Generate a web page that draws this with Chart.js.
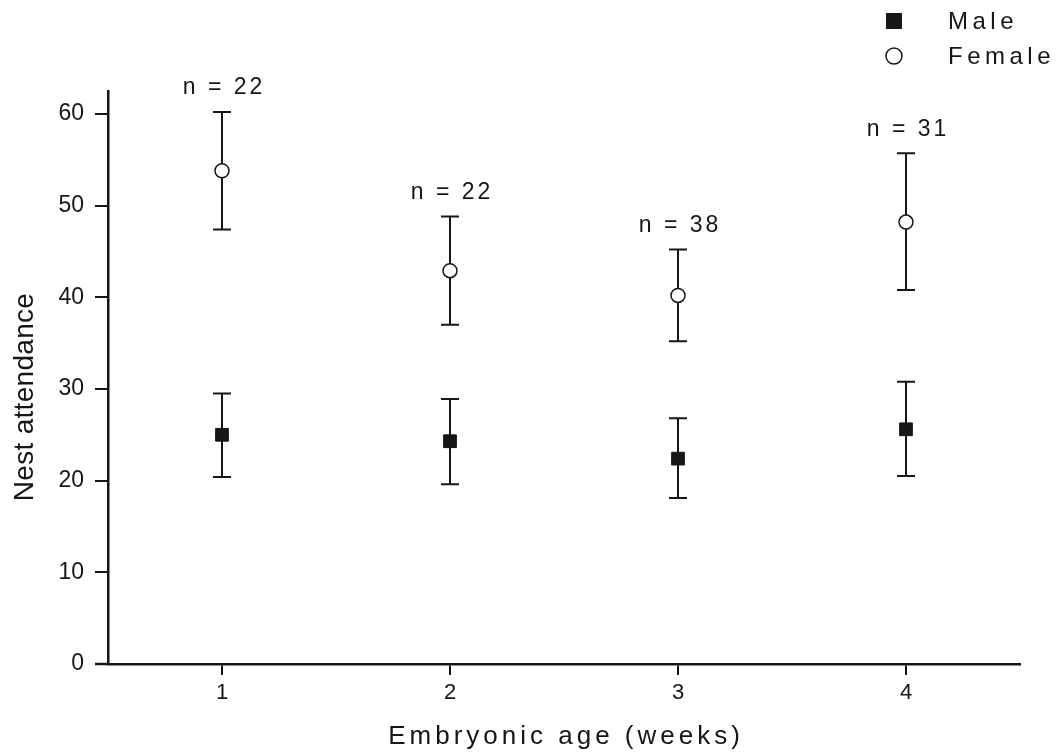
<!doctype html>
<html>
<head>
<meta charset="utf-8">
<style>
  body { margin: 0; background: #fff; }
  .wrap { width: 1061px; height: 756px; position: relative; }
</style>
<script src="https://cdn.jsdelivr.net/npm/chart.js"></script>
</head>
<body>
<div class="wrap"><canvas id="c"></canvas></div>
<script>
// values
const weeks = ['1', '2', '3', '4'];
const maleMean = [25.0, 24.3, 22.4, 25.6];
const maleLow = [20.4, 19.6, 18.1, 20.5];
const maleHigh = [29.5, 28.9, 26.8, 30.8];
const femaleMean = [53.8, 42.9, 40.2, 48.2];
const femaleLow = [47.4, 37.0, 35.2, 40.8];
const femaleHigh = [60.2, 48.8, 45.2, 55.7];
const sampleSizes = [22, 22, 38, 31];

const INK = '#161616';
const FONT = '"Liberation Sans", Arial, sans-serif';

const errorBars = {
  id: 'errorBars',
  beforeDatasetsDraw(chart) {
    const { ctx, scales: { x, y } } = chart;
    const sets = [[maleLow, maleHigh], [femaleLow, femaleHigh]];
    ctx.save();
    ctx.strokeStyle = INK;
    ctx.lineWidth = 2;
    sets.forEach(([lo, hi]) => {
      weeks.forEach((w, i) => {
        const px = x.getPixelForValue(i);
        const y0 = y.getPixelForValue(lo[i]);
        const y1 = y.getPixelForValue(hi[i]);
        ctx.beginPath();
        ctx.moveTo(px, y0); ctx.lineTo(px, y1);
        ctx.moveTo(px - 9, y0); ctx.lineTo(px + 9, y0);
        ctx.moveTo(px - 9, y1); ctx.lineTo(px + 9, y1);
        ctx.stroke();
      });
    });
    ctx.restore();
  }
};

const annotations = {
  id: 'annotations',
  afterDraw(chart) {
    const { ctx, chartArea, scales: { x, y } } = chart;
    ctx.save();
    ctx.fillStyle = INK;

    // x axis line runs past the y axis, as in the figure
    ctx.strokeStyle = INK;
    ctx.lineWidth = 2.5;
    ctx.beginPath();
    ctx.moveTo(chartArea.left - 13, chartArea.bottom);
    ctx.lineTo(chartArea.left, chartArea.bottom);
    ctx.stroke();

    // sample sizes above the female bars
    ctx.font = '23px ' + FONT;
    ctx.letterSpacing = '3px';
    ctx.textAlign = 'center';
    ctx.textBaseline = 'middle';
    sampleSizes.forEach((n, i) => {
      ctx.fillText('n = ' + n, x.getPixelForValue(i) + 2, y.getPixelForValue(femaleHigh[i]) - 24);
    });

    // axis titles
    ctx.font = '26px ' + FONT;
    ctx.letterSpacing = '4px';
    ctx.textBaseline = 'alphabetic';
    ctx.fillText('Embryonic age (weeks)', (chartArea.left + chartArea.right) / 2 + 2, 744);

    ctx.save();
    ctx.translate(33, 397);
    ctx.rotate(-Math.PI / 2);
    ctx.font = '28px ' + FONT;
    ctx.letterSpacing = '0.3px';
    ctx.fillText('Nest attendance', 0, 0);
    ctx.restore();

    // legend, top right
    ctx.font = '24px ' + FONT;
    ctx.letterSpacing = '4.5px';
    ctx.textAlign = 'left';
    ctx.textBaseline = 'middle';
    chart.data.datasets.forEach((ds, i) => {
      const cy = 21 + i * 35;
      if (ds.pointStyle === 'rect') {
        ctx.fillRect(886, cy - 8, 16, 16);
      } else {
        ctx.beginPath();
        ctx.arc(894, cy, 8, 0, Math.PI * 2);
        ctx.fillStyle = '#fff';
        ctx.fill();
        ctx.lineWidth = 1.5;
        ctx.stroke();
        ctx.fillStyle = INK;
      }
      ctx.fillText(ds.label, 948, cy + 1);
    });
    ctx.restore();
  }
};

new Chart(document.getElementById('c'), {
  type: 'line',
  data: {
    labels: weeks,
    datasets: [
      {
        label: 'Male',
        data: maleMean,
        showLine: false,
        pointStyle: 'rect',
        pointRadius: 9,
        backgroundColor: INK,
        borderColor: INK,
        borderWidth: 1
      },
      {
        label: 'Female',
        data: femaleMean,
        showLine: false,
        pointStyle: 'circle',
        pointRadius: 7,
        backgroundColor: '#fff',
        borderColor: INK,
        borderWidth: 1.5
      }
    ]
  },
  options: {
    responsive: true,
    maintainAspectRatio: false,
    animation: false,
    layout: { padding: { left: 0, right: 41, top: 91, bottom: 0 } },
    plugins: { legend: { display: false }, tooltip: { enabled: false } },
    scales: {
      x: {
        type: 'category',
        offset: true,
        afterFit(s) { s.height = 92; },
        border: { display: true, color: INK, width: 2.5 },
        grid: { offset: false, drawOnChartArea: false, drawTicks: true, tickLength: 11, color: INK, lineWidth: 2 },
        ticks: { color: INK, font: { family: FONT, size: 22 }, padding: 5 }
      },
      y: {
        min: 0,
        max: 62.5,
        afterFit(s) { s.width = 108; },
        border: { display: true, color: INK, width: 2.5 },
        grid: { drawOnChartArea: false, drawTicks: true, tickLength: 13, color: INK, lineWidth: 2 },
        ticks: { stepSize: 10, includeBounds: false, color: INK, font: { family: FONT, size: 23 }, padding: 11 }
      }
    }
  },
  plugins: [errorBars, annotations]
});
</script>
</body>
</html>
